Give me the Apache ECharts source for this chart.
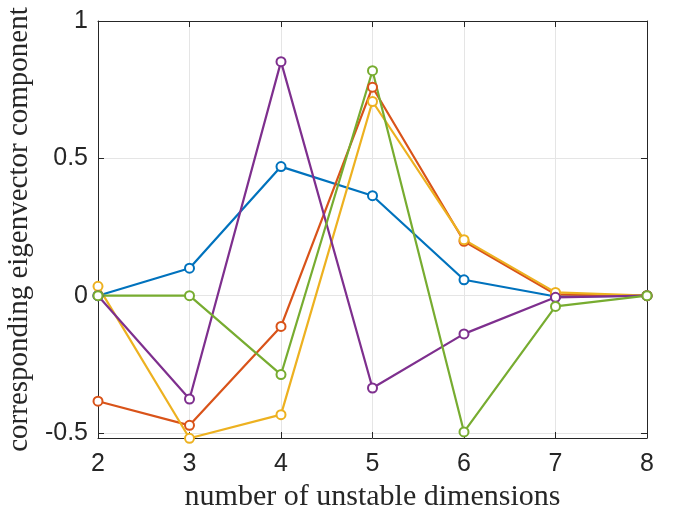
<!DOCTYPE html>
<html>
<head>
<meta charset="utf-8">
<script src="https://cdn.jsdelivr.net/npm/echarts@6/dist/echarts.min.js"></script>
<style>
  html, body { margin: 0; padding: 0; background: #fff; }
  #chart { width: 676px; height: 511px; }
</style>
</head>
<body>
<div id="chart"></div>
<script>
// dimension counts on the x axis
var dims = [2, 3, 4, 5, 6, 7, 8];
var yTicks = [-0.5, 0, 0.5, 1];
var xTicks = [2, 3, 4, 5, 6, 7, 8];

// eigenvector components, one array per curve (MATLAB default order)
var blue   = [0,  0.10,  0.47,  0.364, 0.058, -0.003, 0];
var red    = [-0.384, -0.472, -0.112, 0.759, 0.198, 0.005, 0];
var yellow = [0.034, -0.519, -0.433, 0.707, 0.204, 0.012, 0];
var purple = [0, -0.376, 0.852, -0.336, -0.139, -0.006, 0];
var green  = [0, 0, -0.287, 0.819, -0.496, -0.039, 0];

var colors = ['#0072BD', '#D95319', '#EDB120', '#7E2F8E', '#77AC30'];
var curves = [blue, red, yellow, purple, green];

var axisColor = '#262626';
var gridColor = '#e5e5e5';
var tickFont = '"Liberation Sans", Arial, sans-serif';
var labelFont = '"Liberation Serif", "DejaVu Serif", serif';

var chart = echarts.init(document.getElementById('chart'), null, { renderer: 'canvas' });

function pairs(vals) {
  return vals.map(function(v, i) { return [dims[i], v]; });
}

var series = curves.map(function(vals, i) {
  return {
    type: 'line',
    data: pairs(vals),
    symbol: 'emptyCircle',
    symbolSize: 9,
    clip: false,
    animation: false,
    lineStyle: { color: colors[i], width: 2.2 },
    itemStyle: { color: colors[i], borderColor: colors[i], borderWidth: 2 }
  };
});

chart.setOption({
  backgroundColor: '#fff',
  grid: { left: 98, right: 29, top: 21, bottom: 73, outerBoundsMode: 'none', containLabel: false },
  xAxis: [{
    type: 'value',
    min: 2, max: 8, interval: 1,
    name: 'number of unstable dimensions',
    nameLocation: 'middle',
    nameGap: 41,
    nameTextStyle: { fontFamily: labelFont, fontSize: 30, color: axisColor },
    axisLine: { onZero: false, lineStyle: { color: axisColor, width: 1 } },
    axisTick: { inside: true, length: 6, lineStyle: { color: axisColor } },
    axisLabel: { fontFamily: tickFont, fontSize: 25, color: axisColor, margin: 14,
      customValues: xTicks },
    splitLine: { show: true, lineStyle: { color: gridColor, width: 1 } }
  }, {
    type: 'value', position: 'top',
    min: 2, max: 8, interval: 1,
    axisLine: { onZero: false, lineStyle: { color: axisColor, width: 1 } },
    axisTick: { inside: true, length: 6, lineStyle: { color: axisColor } },
    axisLabel: { show: false },
    splitLine: { show: false }
  }],
  yAxis: [{
    type: 'value',
    min: -0.518, max: 1,
    name: 'corresponding eigenvector component',
    nameLocation: 'middle',
    nameGap: 56,
    nameTextStyle: { fontFamily: labelFont, fontSize: 29, color: axisColor },
    axisLine: { show: true, onZero: false, lineStyle: { color: axisColor, width: 1 } },
    axisTick: { show: true, inside: true, length: 6, lineStyle: { color: axisColor }, customValues: yTicks },
    axisLabel: { fontFamily: tickFont, fontSize: 25, color: axisColor, margin: 10, customValues: yTicks },
    splitLine: { show: true, lineStyle: { color: gridColor, width: 1 } }
  }, {
    type: 'value', position: 'right',
    min: -0.518, max: 1,
    axisLine: { show: true, onZero: false, lineStyle: { color: axisColor, width: 1 } },
    axisTick: { show: true, inside: true, length: 6, lineStyle: { color: axisColor }, customValues: yTicks },
    axisLabel: { show: false },
    splitLine: { show: false }
  }],
  series: series
});

window.addEventListener('resize', function() { chart.resize(); });
</script>
</body>
</html>
